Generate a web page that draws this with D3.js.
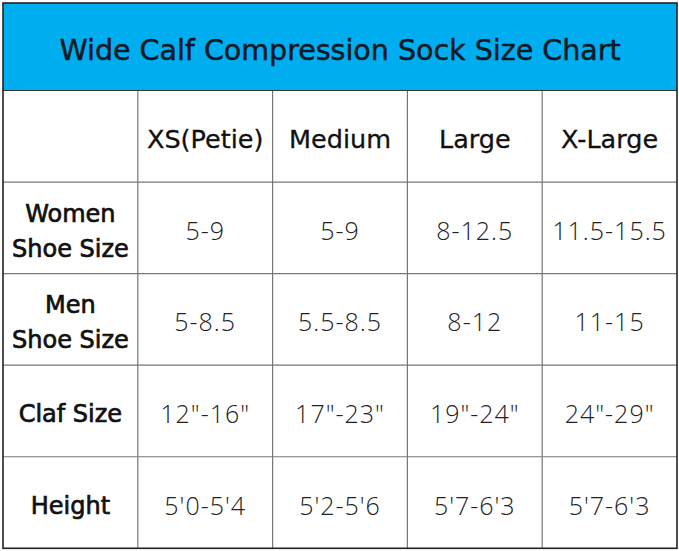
<!DOCTYPE html>
<html>
<head>
<meta charset="utf-8">
<script src="https://cdn.jsdelivr.net/npm/d3@7"></script>
<style>
  body { margin: 0; background: #fff; }
  svg { display: block; }
</style>
</head>
<body>
<div id="chart"></div>
<script>
const title = "Wide Calf Compression Sock Size Chart";
const sizes = ["XS(Petie)", "Medium", "Large", "X-Large"];
const rowLabels = [["Women", "Shoe Size"], ["Men", "Shoe Size"], ["Claf Size"], ["Height"]];
const womenShoe = ["5-9", "5-9", "8-12.5", "11.5-15.5"];
const menShoe = ["5-8.5", "5.5-8.5", "8-12", "11-15"];
const calfSize = ["12\"-16\"", "17\"-23\"", "19\"-24\"", "24\"-29\""];
const heights = ["5'0-5'4", "5'2-5'6", "5'7-6'3", "5'7-6'3"];
const rowValues = [womenShoe, menShoe, calfSize, heights];

const width = 679, height = 551;
const tLeft = 3, tRight = 677, tTop = 3, tBottom = 548.3, headBottom = 90.5;

const svg = d3.select("#chart").append("svg")
  .attr("width", width)
  .attr("height", height);

const cols = ["label"].concat(sizes);
const x = d3.scaleBand().domain(cols).range([tLeft, tRight]);
const rows = ["head"].concat(rowLabels.map((d, i) => "r" + i));
const y = d3.scaleBand().domain(rows).range([headBottom, tBottom]);

// title band
svg.append("rect")
  .attr("x", tLeft).attr("y", tTop)
  .attr("width", tRight - tLeft).attr("height", headBottom - tTop)
  .attr("fill", "#00aeef");

svg.append("text")
  .attr("x", (tLeft + tRight) / 2)
  .attr("y", (tTop + headBottom) / 2 + 13)
  .attr("text-anchor", "middle")
  .attr("font-family", "DejaVu Sans")
  .attr("font-size", 28.5)
  .attr("fill", "#0b1826")
  .attr("stroke", "#0b1826")
  .attr("stroke-width", 0.5)
  .text(title);

// grid
const grid = svg.append("g").attr("stroke", "#777").attr("stroke-width", 1.2);
cols.slice(1).forEach((c) => {
  grid.append("line")
    .attr("x1", x(c)).attr("x2", x(c))
    .attr("y1", headBottom).attr("y2", tBottom);
});
rows.slice(1).forEach((r) => {
  grid.append("line")
    .attr("x1", tLeft).attr("x2", tRight)
    .attr("y1", y(r)).attr("y2", y(r));
});
svg.append("line")
  .attr("x1", tLeft).attr("x2", tRight)
  .attr("y1", headBottom).attr("y2", headBottom)
  .attr("stroke", "#333").attr("stroke-width", 1.2);

svg.append("rect")
  .attr("x", tLeft).attr("y", tTop)
  .attr("width", tRight - tLeft).attr("height", tBottom - tTop)
  .attr("fill", "none")
  .attr("stroke", "#222")
  .attr("stroke-width", 1.6);

const cx = (c) => x(c) + x.bandwidth() / 2;
const cy = (r) => y(r) + y.bandwidth() / 2;

// column headers
svg.append("g").selectAll("text")
  .data(sizes)
  .join("text")
  .attr("x", (d) => cx(d))
  .attr("y", cy("head") + 12)
  .attr("text-anchor", "middle")
  .attr("font-family", "DejaVu Sans")
  .attr("font-size", 25.5)
  .attr("fill", "#111")
  .attr("stroke", "#111")
  .attr("stroke-width", 0.3)
  .text((d) => d);

// row labels
rowLabels.forEach((lines, i) => {
  const t = svg.append("text")
    .attr("text-anchor", "middle")
    .attr("font-family", "DejaVu Sans")
    .attr("font-size", 24)
    .attr("fill", "#111")
    .attr("stroke", "#111")
    .attr("stroke-width", 0.7);
  lines.forEach((s, j) => {
    const base = lines.length > 1 ? cy("r" + i) - 6 + j * 35 : cy("r" + i) + 11;
    t.append("tspan")
      .attr("x", cx("label"))
      .attr("y", base)
      .text(s);
  });
});

// values
rowValues.forEach((vals, i) => {
  svg.append("g").selectAll("text")
    .data(vals)
    .join("text")
    .attr("x", (d, j) => cx(sizes[j]))
    .attr("y", cy("r" + i) + 12)
    .attr("text-anchor", "middle")
    .attr("font-family", "Open Sans")
    .attr("font-weight", 300)
    .attr("font-size", 25)
    .attr("letter-spacing", 1)
    .attr("fill", "#222")
    .text((d) => d);
});
</script>
</body>
</html>
